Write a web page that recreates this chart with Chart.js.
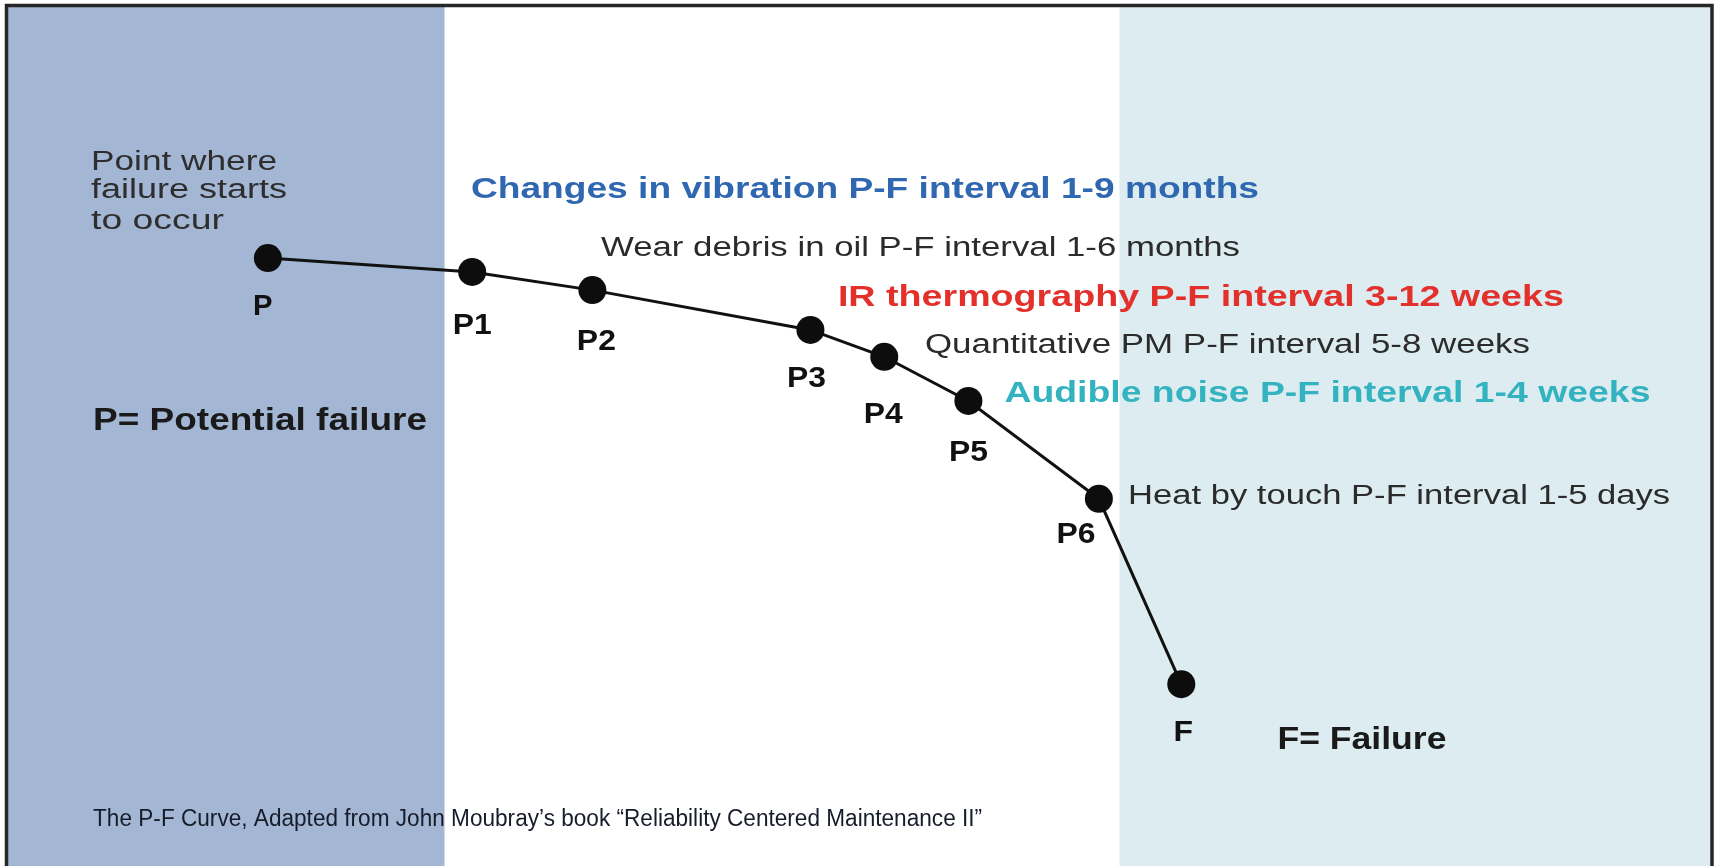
<!DOCTYPE html>
<html>
<head>
<meta charset="utf-8">
<title>The P-F Curve</title>
<script src="https://cdn.jsdelivr.net/npm/chart.js@4"></script>
<style>
  html, body { margin: 0; padding: 0; background: #fff; }
  #wrap { width: 1717px; height: 866px; }
</style>
</head>
<body>
<div id="wrap"><canvas id="pf" width="1717" height="866"></canvas></div>
<script>
// stages on the P-F curve (x = time %, y = equipment condition %)
const stages = ["P", "P1", "P2", "P3", "P4", "P5", "P6", "F"];
const timeValues = [15.6, 27.5, 34.5, 47.2, 51.5, 56.4, 64.0, 68.8];
const conditionValues = [70.2, 68.6, 66.5, 61.9, 58.8, 53.7, 42.4, 21.0];

// background zones along the time axis
const zoneEdges = [0.4, 25.9, 65.2, 99.7];

// detection techniques and their P-F intervals
const techniques = [
  "Changes in vibration P-F interval 1-9 months",
  "Wear debris in oil P-F interval 1-6 months",
  "IR thermography P-F interval 3-12 weeks",
  "Quantitative PM P-F interval 5-8 weeks",
  "Audible noise P-F interval 1-4 weeks",
  "Heat by touch P-F interval 1-5 days"
];

const noteLines = ["Point where", "failure starts", "to occur"];
const legendP = "P= Potential failure";
const legendF = "F= Failure";
const caption = "The P-F Curve, Adapted from John Moubray\u2019s book \u201cReliability Centered Maintenance II\u201d";

const SANS = '"Liberation Sans", Arial, Helvetica, sans-serif';
const NUDGE = 3; // middle baseline sits a bit high for these glyphs

// stage label offsets from their dot (px)
const stageLabelOffset = [[-5, 46], [0, 51], [4, 49], [-4, 46], [-1, 55], [0, 49], [-23, 33], [2, 46]];

// technique text: [x, y, width px, bold, colour]
const techniqueLayout = [
  [27.43, 78.4, 788, true, "#2f67b1"],
  [35.0, 71.7, 639, false, "#2b2b2b"],
  [48.8, 65.9, 726, true, "#e3302b"],
  [53.87, 60.4, 605, false, "#2b2b2b"],
  [58.5, 54.85, 646, true, "#33b3c0"],
  [65.7, 42.96, 542, false, "#2b2b2b"]
];

function drawFitted(ctx, text, x, y, font, width, align) {
  ctx.save();
  ctx.font = font;
  ctx.textBaseline = "middle";
  ctx.textAlign = align || "left";
  const w = ctx.measureText(text).width;
  const sx = width ? width / w : 1;
  ctx.translate(x, y + NUDGE);
  ctx.scale(sx, 1);
  ctx.fillText(text, 0, 0);
  ctx.restore();
}

const backdrop = {
  id: "backdrop",
  beforeDraw(chart) {
    const { ctx, scales: { x } } = chart;
    const H = chart.height, W = chart.width;
    ctx.save();
    ctx.fillStyle = "#ffffff";
    ctx.fillRect(0, 0, W, H);
    const zoneColors = ["#a3b6d3", "#ffffff", "#dcecf0"];
    for (let i = 0; i < zoneColors.length; i++) {
      const a = x.getPixelForValue(zoneEdges[i]);
      const b = x.getPixelForValue(zoneEdges[i + 1]);
      ctx.fillStyle = zoneColors[i];
      ctx.fillRect(a, 6, b - a, H - 6);
    }
    // frame
    ctx.strokeStyle = "#262626";
    ctx.lineWidth = 3.5;
    ctx.beginPath();
    ctx.moveTo(6.5, H);
    ctx.lineTo(6.5, 5.5);
    ctx.lineTo(1712, 5.5);
    ctx.lineTo(1712, H);
    ctx.stroke();
    ctx.restore();
  }
};

const annotations = {
  id: "annotations",
  afterDatasetsDraw(chart) {
    const { ctx, scales: { x, y } } = chart;
    const meta = chart.getDatasetMeta(0);
    ctx.save();

    // stage labels under each dot
    ctx.fillStyle = "#111111";
    meta.data.forEach((pt, i) => {
      const off = stageLabelOffset[i];
      const label = stages[i];
      drawFitted(ctx, label, pt.x + off[0], pt.y + off[1], "bold 29px " + SANS, label.length * 19.5, "center");
    });

    // technique intervals
    techniques.forEach((t, i) => {
      const L = techniqueLayout[i];
      ctx.fillStyle = L[4];
      const font = (L[3] ? "bold 29px " : "27px ") + SANS;
      drawFitted(ctx, t, x.getPixelForValue(L[0]), y.getPixelForValue(L[1]), font, L[2]);
    });

    // note near P
    ctx.fillStyle = "#2e2e2e";
    const noteY = [81.6, 78.3, 74.8];
    const noteW = [186, 196, 133];
    noteLines.forEach((line, i) => {
      drawFitted(ctx, line, x.getPixelForValue(5.3), y.getPixelForValue(noteY[i]), "27px " + SANS, noteW[i]);
    });

    // legends
    ctx.fillStyle = "#1a1a1a";
    drawFitted(ctx, legendP, x.getPixelForValue(5.42), y.getPixelForValue(51.7), "bold 31px " + SANS, 334);
    drawFitted(ctx, legendF, x.getPixelForValue(74.4), y.getPixelForValue(14.9), "bold 31px " + SANS, 169);

    // caption
    ctx.fillStyle = "#161c2a";
    drawFitted(ctx, caption, x.getPixelForValue(5.42), y.getPixelForValue(5.7), "23px " + SANS, 889);
    ctx.restore();
  }
};

new Chart(document.getElementById("pf"), {
  type: "scatter",
  data: {
    labels: stages,
    datasets: [{
      label: "P-F curve",
      data: timeValues.map((t, i) => ({ x: t, y: conditionValues[i] })),
      showLine: true,
      borderColor: "#111111",
      borderWidth: 3,
      pointRadius: 14,
      pointBackgroundColor: "#0d0d0d",
      pointBorderWidth: 0,
      tension: 0
    }]
  },
  options: {
    responsive: false,
    devicePixelRatio: 1,
    animation: false,
    layout: { padding: 0, autoPadding: false },
    plugins: {
      legend: { display: false },
      tooltip: { enabled: false },
      title: { display: false }
    },
    scales: {
      x: { type: "linear", min: 0, max: 100, display: false },
      y: { type: "linear", min: 0, max: 100, display: false }
    }
  },
  plugins: [backdrop, annotations]
});
</script>
</body>
</html>
